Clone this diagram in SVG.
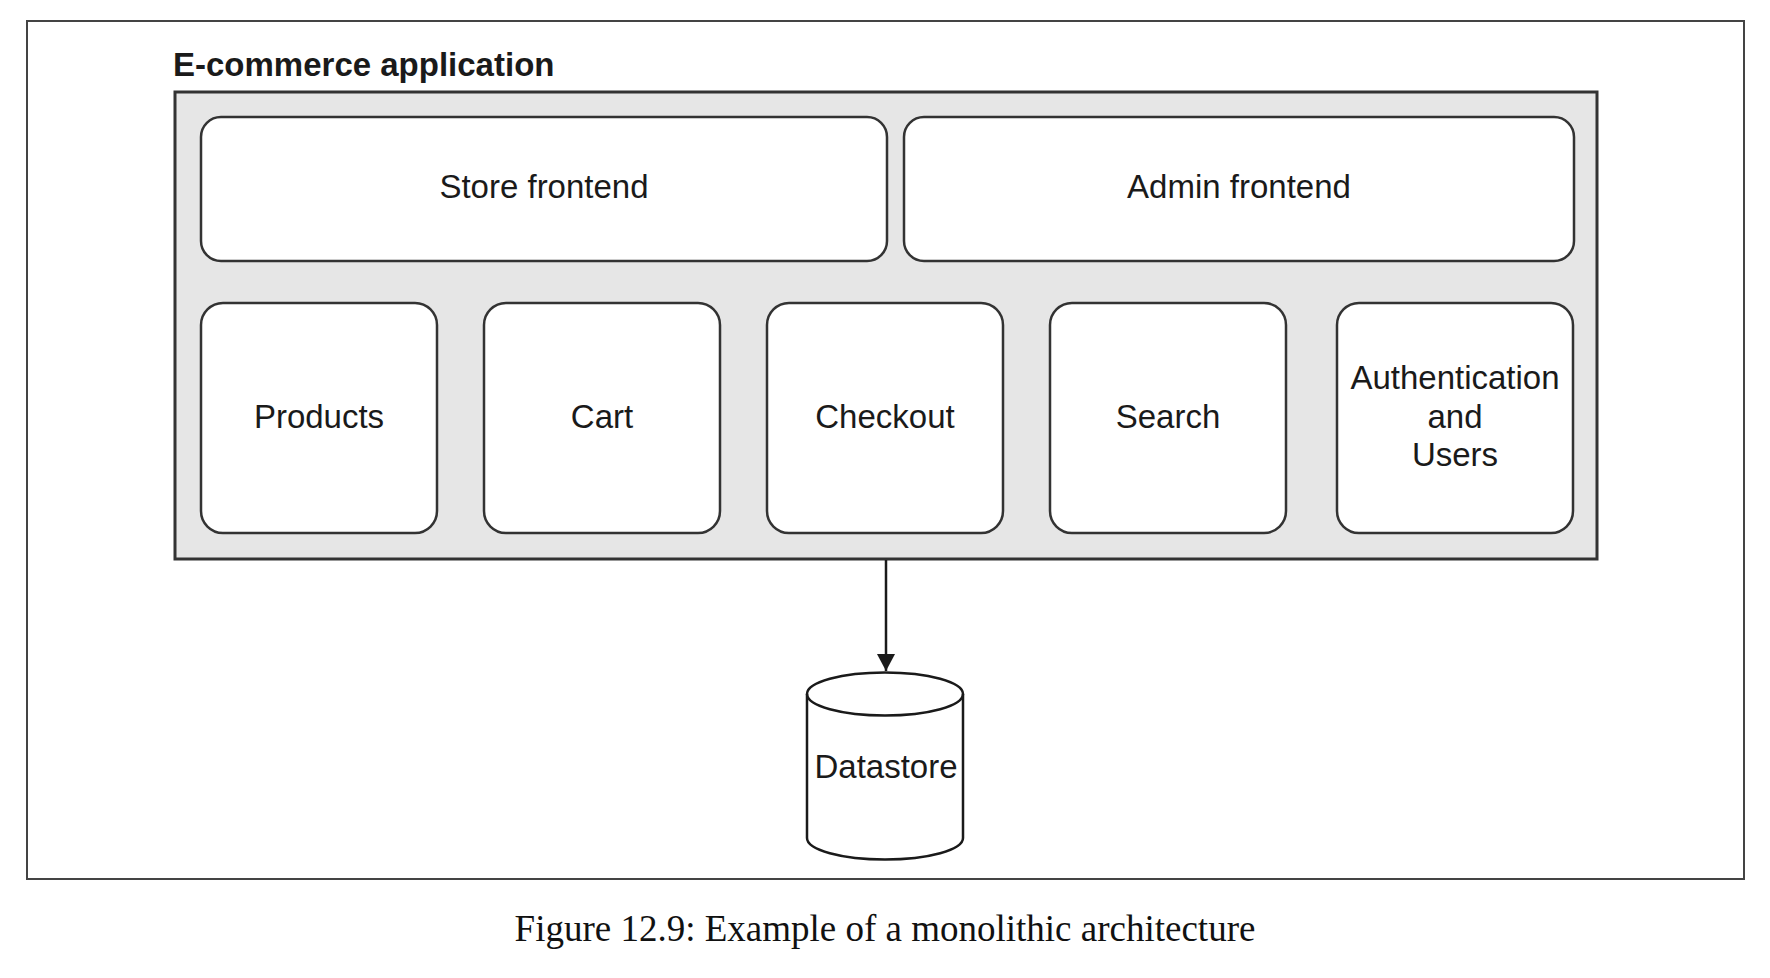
<svg xmlns="http://www.w3.org/2000/svg" width="1770" height="978" viewBox="0 0 1770 978">
<style>
.box{fill:#ffffff;stroke:#333333;stroke-width:2.5}
.lbl{font-family:"Liberation Sans",Arial,sans-serif;font-size:33px;fill:#1a1a1a;text-anchor:middle}
.conn{stroke:#1a1a1a;stroke-width:2.5;fill:none}
</style>
<defs>
<marker id="arrow" markerWidth="18" markerHeight="18" refX="17" refY="9" orient="auto" markerUnits="userSpaceOnUse" viewBox="0 0 18 18">
<path d="M0,0 L17,9 L0,18 Z" fill="#1a1a1a"/>
</marker>
</defs>
<rect x="0" y="0" width="1770" height="978" fill="#ffffff"/>
<rect id="frame" x="27" y="21" width="1717" height="858" fill="none" stroke="#444444" stroke-width="2"/>
<g id="app">
<text x="173" y="76" font-family="Liberation Sans,Arial,sans-serif" font-size="33" font-weight="bold" fill="#1a1a1a">E-commerce application</text>
<rect x="175" y="92" width="1422" height="467" fill="#e6e6e6" stroke="#333333" stroke-width="3"/>
</g>
<g id="store-frontend">
<rect class="box" x="201" y="117" width="686" height="144" rx="20" ry="20"/>
<text class="lbl" x="544" y="198">Store frontend</text>
</g>
<g id="admin-frontend">
<rect class="box" x="904" y="117" width="670" height="144" rx="20" ry="20"/>
<text class="lbl" x="1239" y="198">Admin frontend</text>
</g>
<g id="products">
<rect class="box" x="201" y="303" width="236" height="230" rx="22" ry="22"/>
<text class="lbl" x="319" y="428">Products</text>
</g>
<g id="cart">
<rect class="box" x="484" y="303" width="236" height="230" rx="22" ry="22"/>
<text class="lbl" x="602" y="428">Cart</text>
</g>
<g id="checkout">
<rect class="box" x="767" y="303" width="236" height="230" rx="22" ry="22"/>
<text class="lbl" x="885" y="428">Checkout</text>
</g>
<g id="search">
<rect class="box" x="1050" y="303" width="236" height="230" rx="22" ry="22"/>
<text class="lbl" x="1168" y="428">Search</text>
</g>
<g id="auth">
<rect class="box" x="1337" y="303" width="236" height="230" rx="22" ry="22"/>
<text class="lbl" x="1455" y="389">Authentication</text>
<text class="lbl" x="1455" y="428">and</text>
<text class="lbl" x="1455" y="466">Users</text>
</g>
<g id="connectors">
<line class="conn" x1="886" y1="560" x2="886" y2="671" marker-end="url(#arrow)"/>
</g>
<g id="datastore">
<path d="M807,694 L807,838 A78,21.5 0 0 0 963,838 L963,694 A78,21.5 0 0 0 807,694 Z" fill="#ffffff" stroke="#1a1a1a" stroke-width="2.5"/>
<path d="M807,694 A78,21.5 0 0 0 963,694" fill="none" stroke="#1a1a1a" stroke-width="2.5"/>
<text class="lbl" x="886" y="778" font-size="32">Datastore</text>
</g>
<text id="caption" x="885" y="941" font-family="Liberation Serif,Times New Roman,serif" font-size="37" fill="#111111" text-anchor="middle">Figure 12.9: Example of a monolithic architecture</text>
</svg>
